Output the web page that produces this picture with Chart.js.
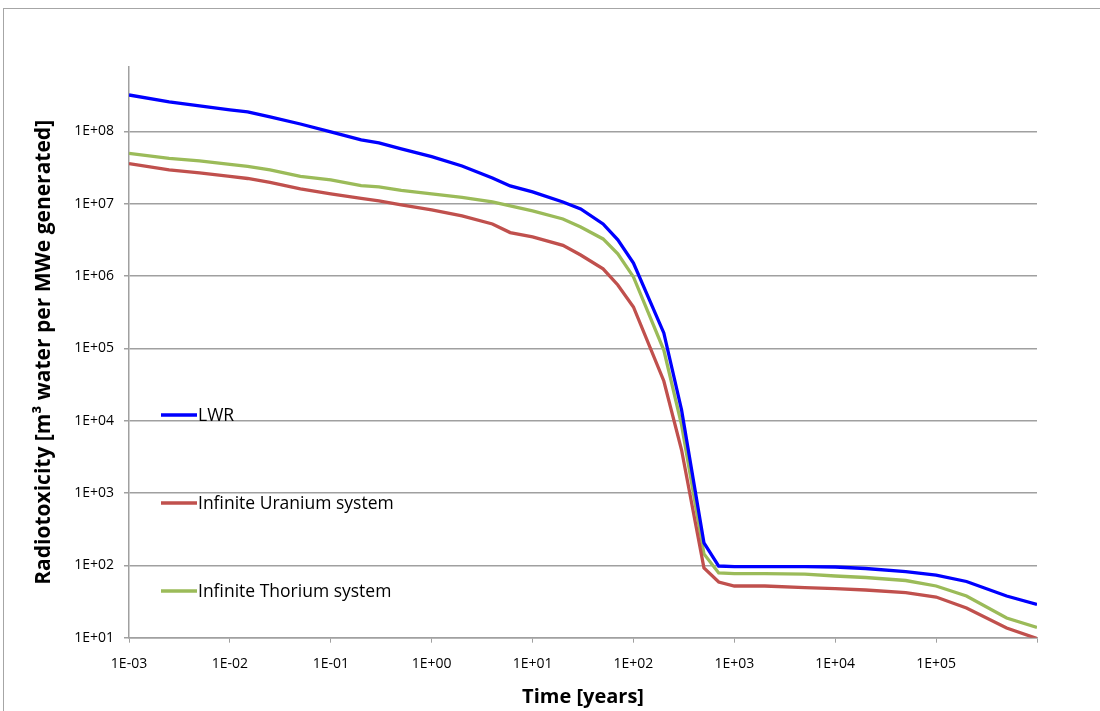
<!DOCTYPE html>
<html>
<head>
<meta charset="utf-8">
<script src="https://cdn.jsdelivr.net/npm/chart.js@4/dist/chart.umd.min.js"></script>
<style>
  html, body { margin: 0; padding: 0; background: #fff; }
  #wrap { width: 1100px; height: 711px; }
</style>
</head>
<body>
<div id="wrap"><canvas id="radioChart" width="1100" height="711"></canvas></div>
<script>
// tijdstippen (jaren) en radiotoxiciteit per systeem
const times = [0.001, 0.0025, 0.005, 0.01, 0.015, 0.025, 0.05, 0.1, 0.2, 0.3, 0.5, 1, 2, 4, 6, 10, 20, 30, 50, 70,
               100, 200, 300, 500, 700, 1000, 2000, 5000, 1e4, 2e4, 5e4, 1e5, 2e5, 5e5, 1e6];
const lwr = [3.2e8, 2.57e8, 2.26e8, 1.99e8, 1.87e8, 1.59e8, 1.27e8, 9.9e7, 7.66e7, 6.95e7, 5.74e7, 4.5e7, 3.34e7, 2.28e7, 1.77e7, 1.46e7,
             1.06e7, 8.5e6, 5.27e6, 3.17e6, 1.52e6, 1.64e5, 1.41e4, 204, 98, 96, 96, 96, 95, 90.6, 82, 73.6, 59.9, 37.7, 28.8];
const uranium = [3.6e7, 2.94e7, 2.67e7, 2.39e7, 2.24e7, 1.98e7, 1.61e7, 1.37e7, 1.19e7, 1.1e7, 9.66e6, 8.24e6, 6.81e6, 5.27e6, 4.0e6, 3.48e6,
                 2.66e6, 1.96e6, 1.26e6, 7.55e5, 3.75e5, 3.55e4, 3.94e3, 92, 58.9, 51.9, 51.9, 49.2, 47.6, 45.7, 41.9, 36.5, 25.7, 13.6, 9.75];
const thorium = [5.0e7, 4.25e7, 3.92e7, 3.51e7, 3.29e7, 2.94e7, 2.39e7, 2.14e7, 1.79e7, 1.71e7, 1.53e7, 1.37e7, 1.23e7, 1.06e7, 9.35e6, 7.98e6,
                 6.18e6, 4.79e6, 3.27e6, 2.03e6, 9.75e5, 9.5e4, 8.75e3, 144, 78.5, 76.7, 76.7, 75.7, 71.3, 68, 61.8, 51.9, 37.7, 18.7, 13.9];
const seriesNames = ['LWR', 'Infinite Uranium system', 'Infinite Thorium system'];
const seriesColors = ['#0000ff', '#c0504d', '#9bbb59'];
const xTicks = [1e-3, 1e-2, 1e-1, 1, 10, 100, 1e3, 1e4, 1e5, 1e6];
const yTicks = [1e1, 1e2, 1e3, 1e4, 1e5, 1e6, 1e7, 1e8];

const fontFam = '"Open Sans", "DejaVu Sans", sans-serif';

// notatie zoals Excel: 1E+08, 1E-03
function expLabel(v) {
    const e = Math.round(Math.log10(v));
    return '1E' + (e < 0 ? '-' : '+') + String(Math.abs(e)).padStart(2, '0');
}

function toPoints(values) {
    return times.map((t, i) => ({ x: t, y: values[i] }));
}

// rand rond de hele grafiek
const framePlugin = {
    id: 'frame',
    beforeDraw(chart) {
        const ctx = chart.ctx;
        ctx.save();
        ctx.fillStyle = '#fff';
        ctx.fillRect(0, 0, chart.width, chart.height);
        ctx.strokeStyle = '#a6a6a6';
        ctx.lineWidth = 1;
        ctx.strokeRect(3.5, 8.5, 1200, 800);
        ctx.restore();
    }
};

// legenda binnen het plotgebied, onder elkaar
const legendPlugin = {
    id: 'innerLegend',
    afterDatasetsDraw(chart) {
        const ctx = chart.ctx;
        const rowsY = [415, 503, 591];
        ctx.save();
        chart.data.datasets.forEach((ds, i) => {
            const y = rowsY[i];
            ctx.strokeStyle = ds.borderColor;
            ctx.lineWidth = 3.3;
            ctx.beginPath();
            ctx.moveTo(161, y);
            ctx.lineTo(197, y);
            ctx.stroke();
            ctx.fillStyle = '#000';
            ctx.font = '17.5px ' + fontFam;
            ctx.textBaseline = 'middle';
            ctx.textAlign = 'left';
            ctx.fillText(ds.label, 198, y + 1);
        });
        ctx.restore();
    }
};

function drawChart() {
    const ctx = document.getElementById('radioChart').getContext('2d');
    new Chart(ctx, {
        type: 'line',
        data: {
            datasets: [lwr, uranium, thorium].map((vals, i) => ({
                label: seriesNames[i],
                data: toPoints(vals),
                borderColor: seriesColors[i],
                backgroundColor: seriesColors[i],
                borderWidth: 3.3,
                pointRadius: 0,
                tension: 0,
                fill: false
            }))
        },
        options: {
            responsive: false,
            animation: false,
            layout: { padding: { left: 20, top: 67, right: 63, bottom: 0 } },
            plugins: {
                legend: { display: false },
                tooltip: { enabled: false }
            },
            scales: {
                x: {
                    type: 'logarithmic',
                    min: 1e-3,
                    max: 1e6,
                    afterBuildTicks: scale => { scale.ticks = xTicks.map(v => ({ value: v })); },
                    afterFit: scale => { scale.height = 73.3; },
                    grid: { drawOnChartArea: false, drawTicks: true, tickLength: 5, color: '#a0a0a0' },
                    border: { color: '#a0a0a0', width: 1.5 },
                    ticks: {
                        autoSkip: false,
                        maxRotation: 0,
                        padding: 13,
                        color: '#000',
                        font: { family: fontFam, size: 14 },
                        callback: v => (v >= 1e6 ? '' : expLabel(v))
                    },
                    title: {
                        display: true,
                        text: 'Time [years]',
                        color: '#000',
                        font: { family: fontFam, size: 20, weight: 'bold' },
                        padding: { top: 0, bottom: 2 }
                    }
                },
                y: {
                    type: 'logarithmic',
                    min: 10,
                    max: 7.8e8,
                    afterBuildTicks: scale => { scale.ticks = yTicks.map(v => ({ value: v })); },
                    afterFit: scale => { scale.width = 109; },
                    grid: { drawOnChartArea: true, drawTicks: true, tickLength: 5, color: '#a0a0a0', lineWidth: 1.5 },
                    border: { color: '#a0a0a0', width: 1.5 },
                    ticks: {
                        autoSkip: false,
                        padding: 10,
                        color: '#000',
                        font: { family: fontFam, size: 14 },
                        callback: v => expLabel(v)
                    },
                    title: {
                        display: true,
                        text: 'Radiotoxicity [m³ water per MWe generated]',
                        color: '#000',
                        font: { family: fontFam, size: 21, weight: 'bold' },
                        padding: { top: 11, bottom: 0 }
                    }
                }
            }
        },
        plugins: [framePlugin, legendPlugin]
    });
}

window.onload = drawChart;
</script>
</body>
</html>
